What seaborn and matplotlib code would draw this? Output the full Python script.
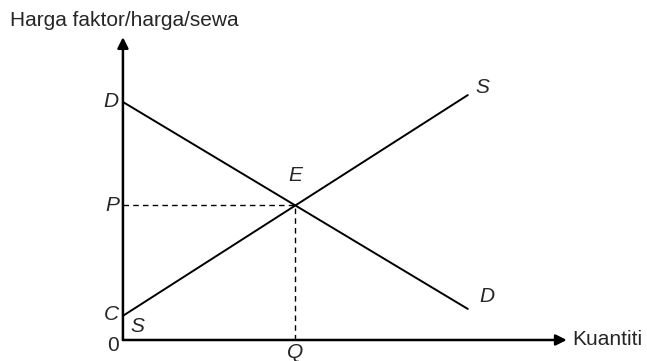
import numpy as np
import pandas as pd
import matplotlib
matplotlib.use("Agg")
import matplotlib.pyplot as plt
import seaborn as sns

# curve end points (quantity, price)
quantity = [0, 10]
demand_price = [6.9, 0.9]
supply_price = [0.7, 7.1]

# equilibrium
eq_q = 5.0
eq_p = 3.9

x_max = 12.87
y_max = 8.78

sns.set_style("white")
plt.rcParams['font.family'] = ['Liberation Sans', 'DejaVu Sans']

fig = plt.figure(figsize=(6.47, 3.61), dpi=100)
ax = fig.add_axes([0.190, 0.0582, 0.686, 0.839])

df = pd.DataFrame({
    'q': quantity + quantity,
    'price': demand_price + supply_price,
    'curve': ['D', 'D', 'S', 'S'],
})
sns.lineplot(data=df, x='q', y='price', hue='curve', palette=['black', 'black'],
             linewidth=1.4, legend=False, ax=ax)

# dashed guides to the equilibrium
ax.plot([0, eq_q], [eq_p, eq_p], color='black', lw=1.0, ls=(0, (4, 3)))
ax.plot([eq_q, eq_q], [0, eq_p], color='black', lw=1.0, ls=(0, (4, 3)))

ax.set_xlim(0, x_max)
ax.set_ylim(0, y_max)
for s in ax.spines.values():
    s.set_visible(False)
ax.set_xticks([])
ax.set_yticks([])
ax.set_xlabel('')
ax.set_ylabel('')

# axis arrows
arrow = dict(arrowstyle='-|>', color='black', lw=1.8, mutation_scale=16,
             shrinkA=0, shrinkB=0)
ax.annotate('', xy=(1, 0), xytext=(0, 0), xycoords='axes fraction',
            arrowprops=arrow, annotation_clip=False)
ax.annotate('', xy=(0, 1), xytext=(0, 0), xycoords='axes fraction',
            arrowprops=arrow, annotation_clip=False)

fs = 15
it = dict(fontsize=fs, style='italic', clip_on=False)
ax.text(-0.12, demand_price[0], 'D', ha='right', va='center', **it)
ax.text(-0.12, eq_p, 'P', ha='right', va='center', **it)
ax.text(-0.12, supply_price[0] + 0.05, 'C', ha='right', va='center', **it)
ax.text(-0.12, -0.15, '0', ha='right', va='center', fontsize=fs, clip_on=False)
ax.text(eq_q, -0.35, 'Q', ha='center', va='center', **it)
ax.text(eq_q, 4.78, 'E', ha='center', va='center', **it)
ax.text(10.43, 7.33, 'S', ha='center', va='center', **it)
ax.text(10.55, 1.25, 'D', ha='center', va='center', **it)
ax.text(0.43, 0.38, 'S', ha='center', va='center', **it)
ax.text(x_max + 0.17, 0, 'Kuantiti', ha='left', va='center', fontsize=fs, clip_on=False)

fig.text(0.0155, 0.942, 'Harga faktor/harga/sewa', ha='left', va='center', fontsize=fs)

fig.savefig('out.png', dpi=100)
